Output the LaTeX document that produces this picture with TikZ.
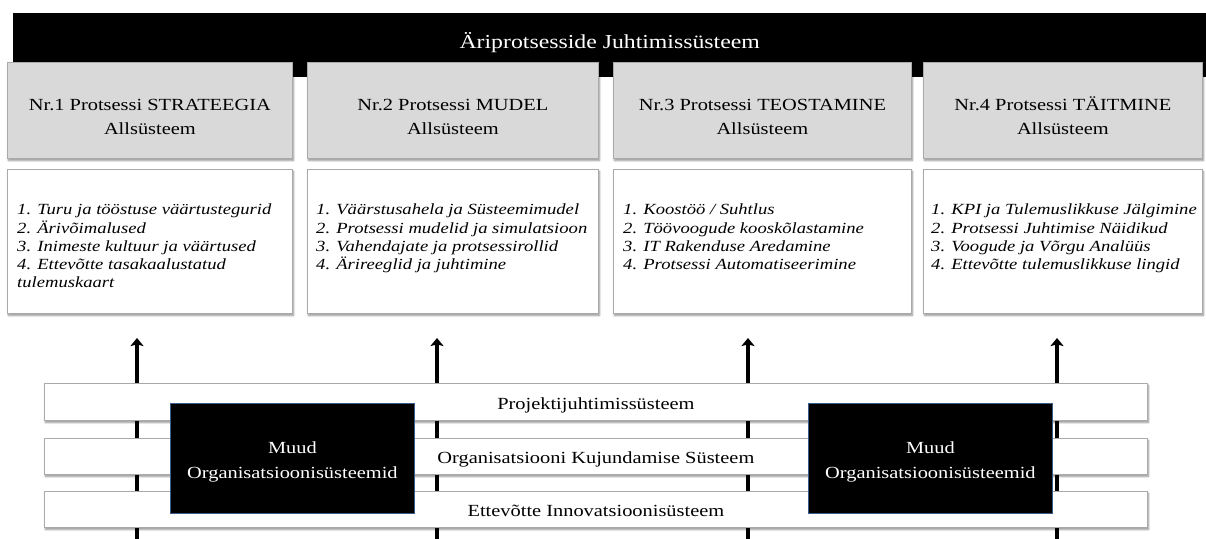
\documentclass[tikz,border=0pt]{standalone}
\usepackage{fontspec}
\setmainfont{Liberation Serif}[FakeStretch=1.2]
\usetikzlibrary{arrows.meta,shadows.blur}
\definecolor{kast}{RGB}{217,217,217}
\definecolor{serv}{RGB}{170,170,170}
\definecolor{sinine}{RGB}{56,93,138}
\newcommand\tugi[1]{\rule{0pt}{#1}}
\begin{document}
\begin{tikzpicture}[x=1pt,y=-1pt,
    vari/.style={blur shadow={shadow xshift=1pt,shadow yshift=-2pt,shadow blur radius=2pt,shadow blur steps=5,shadow opacity=45}},
    must/.style={fill=black,text=white,inner sep=0pt,anchor=north west},
    hall/.style={fill=kast,draw=serv,line width=.8pt,inner sep=0pt,anchor=north west,minimum height=96pt,align=center,font=\fontsize{17}{24}\selectfont,vari},
    valge/.style={fill=white,draw=serv,line width=.8pt,inner sep=0pt,anchor=north west,minimum height=144pt,vari},
    loend/.style={inner sep=0pt,anchor=north west,align=left,font=\fontsize{15.5}{18.2}\selectfont\itshape},
    riba/.style={fill=white,draw=serv,line width=.8pt,inner sep=0pt,anchor=north west,minimum width=1103pt,text height=19pt,text depth=4pt,font=\fontsize{17}{20}\selectfont,vari},
    muud/.style={fill=black,draw=sinine,line width=.8pt,text=white,inner sep=0pt,anchor=north west,minimum width=244pt,minimum height=110pt,align=center,font=\fontsize{17}{25}\selectfont},
    nool/.style={line width=4.5pt,-{Stealth[length=8pt,width=13pt,inset=1.5pt]}}]
  \useasboundingbox (0,0) rectangle (1206,538);

  \node[must,minimum width=1193pt,minimum height=64pt,text height=12pt,text depth=5pt,font=\fontsize{19.8}{24}\selectfont] (juht) at (13,13) {Äriprotsesside Juhtimissüsteem}; % ülemine riba

  % alamsüsteemid
  \node[hall,minimum width=285pt] (p1) at (7,62) {\tugi{25pt}Nr.1 Protsessi STRATEEGIA\\Allsüsteem};
  \node[hall,minimum width=291pt] (p2) at (307,62) {\tugi{25pt}Nr.2 Protsessi MUDEL\\Allsüsteem};
  \node[hall,minimum width=298pt] (p3) at (613,62) {\tugi{25pt}Nr.3 Protsessi TEOSTAMINE\\Allsüsteem};
  \node[hall,minimum width=279pt] (p4) at (923,62) {\tugi{25pt}Nr.4 Protsessi TÄITMINE\\Allsüsteem};

  \node[valge,minimum width=285pt] (v1) at (7,169) {};
  \node[valge,minimum width=291pt] (v2) at (307,169) {};
  \node[valge,minimum width=298pt] (v3) at (613,169) {};
  \node[valge,minimum width=279pt] (v4) at (923,169) {};
  \node[loend] (t1) at ([shift={(10,35)}]v1.north west) {1. Turu ja tööstuse väärtustegurid\\2. Ärivõimalused\\3. Inimeste kultuur ja väärtused\\4. Ettevõtte tasakaalustatud\\tulemuskaart};
  \node[loend] (t2) at ([shift={(9,35)}]v2.north west) {1. Väärstusahela ja Süsteemimudel\\2. Protsessi mudelid ja simulatsioon\\3. Vahendajate ja protsessirollid\\4. Ärireeglid ja juhtimine};
  \node[loend] (t3) at ([shift={(10,35)}]v3.north west) {1. Koostöö / Suhtlus\\2. Töövoogude kooskõlastamine\\3. IT Rakenduse Aredamine\\4. Protsessi Automatiseerimine};
  \node[loend] (t4) at ([shift={(8,35)}]v4.north west) {1. KPI ja Tulemuslikkuse Jälgimine\\2. Protsessi Juhtimise Näidikud\\3. Voogude ja Võrgu Analüüs\\4. Ettevõtte tulemuslikkuse lingid};

  % nooled
  \coordinate (a1) at (137,540); \coordinate (b1) at (137,338);
  \coordinate (a2) at (437,540); \coordinate (b2) at (437,338);
  \coordinate (a3) at (748,540); \coordinate (b3) at (748,338);
  \coordinate (a4) at (1057,540); \coordinate (b4) at (1057,338);
  \draw[nool] (a1)--(b1);
  \draw[nool] (a2)--(b2);
  \draw[nool] (a3)--(b3);
  \draw[nool] (a4)--(b4);

  % organisatsiooni süsteemid
  \node[riba,minimum height=37pt] (r1) at (44,383) {Projektijuhtimissüsteem};
  \node[riba,minimum height=36pt] (r2) at (44,438) {Organisatsiooni Kujundamise Süsteem};
  \node[riba,minimum height=36pt] (r3) at (44,491) {Ettevõtte Innovatsioonisüsteem};

  \node[muud] (m1) at (170,403) {\tugi{19pt}Muud\\Organisatsioonisüsteemid};
  \node[muud] (m2) at (808,403) {\tugi{19pt}Muud\\Organisatsioonisüsteemid};
\end{tikzpicture}
\end{document}
